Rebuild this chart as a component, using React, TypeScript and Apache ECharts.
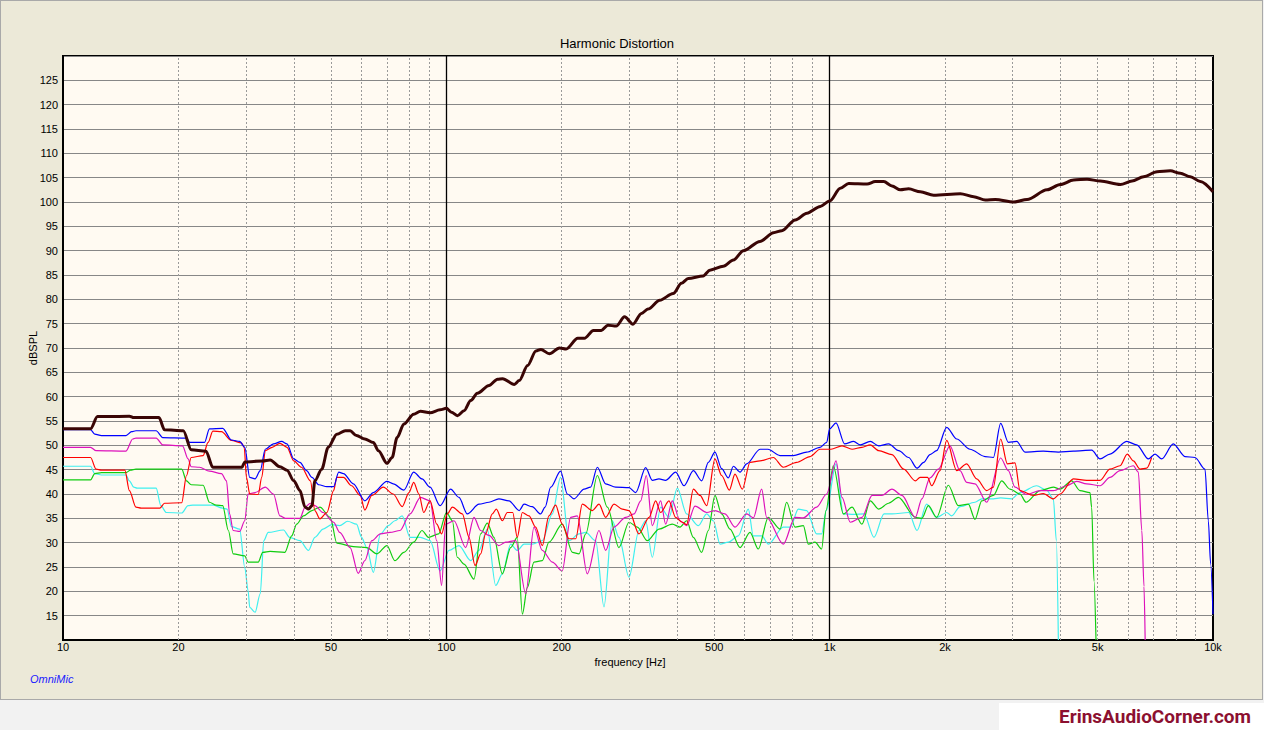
import React, { useEffect, useRef } from "react";
import * as echarts from "echarts";

// ---------- axis / tick data ----------
const xTickFreqs = [10, 20, 50, 100, 200, 500, 1000, 2000, 5000, 10000];
const xTickLabels = ["10", "20", "50", "100", "200", "500", "1k", "2k", "5k", "10k"];
const minorGridFreqs = [
  20, 30, 40, 50, 60, 70, 80, 90,
  200, 300, 400, 500, 600, 700, 800, 900,
  2000, 3000, 4000, 5000, 6000, 7000, 8000, 9000,
];
const majorGridFreqs = [100, 1000];
const yMin = 10;
const yMax = 130;
const yStep = 5;

// ---------- series data: [frequency Hz, dB SPL] ----------
const fundamental: [number, number][] = [
  [10, 53.4], [11.8, 53.4], [12.3, 55.9], [14.9, 56.0], [15.3, 55.7], [17.8, 55.7], [18.4, 53.2],
  [20.6, 53.0], [21.6, 49.1], [23.6, 48.8], [24.6, 45.5], [29.3, 45.5], [29.8, 46.6], [33.2, 46.8],
  [34.7, 47.0], [36.8, 45.6], [38.4, 44.9], [40, 42.7], [41.5, 40.7], [42.8, 37.3], [43.7, 36.9],
  [44.6, 37.6], [45.4, 42.7], [47.3, 45.1], [49.2, 49.6], [51.8, 52.3], [54.5, 53.0], [56.1, 53.0],
  [58.3, 52.0], [61.3, 51.3], [64.5, 50.6], [66.5, 48.9], [70, 46.3], [72.2, 47.5], [74.4, 51.6],
  [77.5, 54.4], [82.2, 56.4], [85.6, 57.0], [90.7, 56.7], [96.3, 57.3], [100, 57.6], [103.1, 56.8],
  [106.9, 56.1], [111.2, 57.1], [115.8, 59.2], [120.5, 60.7], [129.3, 62.3], [136, 63.6], [140.2, 63.7],
  [150.4, 62.5], [155, 63.3], [162.9, 66.4], [171.3, 69.4], [176.5, 69.7], [185.7, 68.8], [197.3, 70.0],
  [205.4, 69.8], [220.2, 72.0], [229.2, 72.0], [242, 73.6], [253.6, 73.6], [264, 74.7], [277.4, 74.5],
  [291.7, 76.4], [306.8, 74.9], [322.8, 77.1], [335.8, 78.0], [360.3, 79.8], [390.6, 81.2], [410.6, 83.3],
  [427.5, 84.3], [467.8, 84.8], [487.1, 86.0], [527.9, 86.8], [560.8, 88.1], [595.6, 90.0], [658.3, 91.9],
  [713.6, 93.7], [750.3, 94.1], [813, 96.3], [872.4, 97.7], [945.4, 99.1], [1000, 100.2], [1066, 102.8],
  [1121, 103.8], [1252, 103.7], [1315, 104.2], [1384, 104.2], [1454, 103.3], [1529, 102.5], [1607, 102.7],
  [1724, 102.1], [1867, 101.4], [2193, 101.7], [2375, 101.1], [2547, 100.4], [2705, 100.5], [3020, 100.0],
  [3272, 100.5], [3690, 102.5], [3998, 103.6], [4329, 104.5], [4692, 104.7], [5082, 104.3], [5732, 103.6],
  [6148, 104.3], [6592, 105.2], [7145, 106.2], [7740, 106.4], [8217, 105.9], [8728, 105.2], [9268, 104.2],
  [10000, 102.1],
];

const blueTrace: [number, number][] = [
  [10, 53.2], [11.8, 53.2], [12.1, 52.3], [12.6, 52.0], [14.6, 52.0], [15.1, 52.8], [15.5, 53.0],
  [17.5, 53.0], [18.2, 51.6], [21.0, 51.5], [21.4, 50.6], [23.4, 50.6], [24.1, 53.4], [26.1, 53.5],
  [27.5, 51.1], [28.9, 50.8], [29.8, 49.6], [30.7, 43.4], [31.7, 43.1], [32.7, 44.8], [33.7, 49.2],
  [35.4, 50.3], [37.2, 50.8], [38.4, 50.3], [40, 47.2], [41.5, 46.5], [43.2, 44.8], [44.6, 43.4],
  [46.5, 41.9], [48.8, 41.5], [50.8, 41.5], [52.4, 44.5], [53.9, 44.2], [57.2, 42.1], [61.3, 38.6],
  [64.5, 40.3], [70, 42.6], [72.7, 42.1], [77.5, 40.8], [82.2, 44.5], [86.4, 43.1], [90.7, 41.4],
  [96.3, 37.6], [102.6, 41.0], [107.9, 39.3], [113.4, 35.9], [121.7, 37.9], [129.2, 38.3], [137.1, 39.0],
  [145.7, 38.6], [154.9, 36.6], [159.5, 37.9], [167.5, 37.4], [176.2, 35.9], [181, 37.3], [187.2, 41.4],
  [198.6, 44.7], [206.9, 40.0], [215.3, 39.0], [228.7, 41.0], [237.9, 41.4], [247.7, 45.5], [260.4, 42.1],
  [276.5, 41.4], [299.6, 41.3], [311.9, 40.3], [331.1, 45.4], [344.6, 42.8], [358.7, 43.1], [373, 42.8],
  [396.6, 44.5], [416.9, 41.7], [441, 44.8], [463.6, 42.7], [482.5, 46.5], [502.1, 48.6], [522.6, 45.2],
  [544, 43.3], [560.9, 45.7], [583.8, 44.5], [607.6, 46.2], [658.1, 49.2], [690, 49.2], [742.1, 47.9],
  [803.8, 47.9], [871, 48.6], [943.6, 49.6], [982.2, 50.6], [1000, 53.4], [1039, 54.6], [1094, 50.3],
  [1155, 50.8], [1202, 50.1], [1276, 50.8], [1342, 49.9], [1425, 50.3], [1514, 48.9], [1607, 47.5],
  [1690, 45.3], [1759, 46.5], [1827, 48.1], [1901, 48.9], [2020, 53.7], [2145, 51.3], [2323, 49.2],
  [2543, 47.7], [2673, 47.5], [2793, 54.5], [2925, 50.6], [3075, 50.8], [3233, 48.6], [3609, 48.8],
  [3950, 48.6], [4323, 48.8], [4826, 49.0], [5073, 47.2], [5386, 48.2], [5954, 50.8], [6324, 50.1],
  [6782, 47.2], [7060, 48.2], [7347, 47.2], [7880, 50.3], [8452, 47.7], [8974, 47.5], [9530, 45.1],
  [9723, 34.5], [9860, 25.6], [10000, 15.3],
];

const redTrace: [number, number][] = [
  [10, 47.5], [11.8, 47.5], [12.2, 45.1], [12.6, 44.9], [14.5, 44.9], [14.9, 40.7], [15.5, 37.3],
  [16, 37.1], [17.9, 37.1], [18.4, 38.1], [20.4, 38.2], [21, 43.8], [21.6, 47.5], [23.2, 47.9],
  [23.9, 50.6], [24.6, 52.9], [25.9, 52.8], [27.5, 51.0], [29.2, 50.5], [29.7, 49.6], [30.1, 43.4],
  [30.7, 40.0], [32.3, 39.9], [33.0, 43.4], [33.7, 48.9], [35.1, 49.6], [36.8, 50.4], [38.4, 49.6],
  [40, 46.8], [41.9, 45.5], [44.2, 42.7], [45.4, 36.6], [46.8, 34.9], [48.8, 36.2], [50.8, 40.7],
  [51.8, 43.4], [53.9, 43.4], [56.6, 41.7], [59.6, 39.7], [61.3, 36.7], [63.9, 39.7], [68.5, 41.4],
  [72.7, 40.0], [76.7, 37.4], [79.9, 40.3], [82.2, 42.4], [84.8, 40.0], [87.3, 36.2], [90.7, 38.6],
  [94.4, 33.8], [97.2, 31.8], [100.6, 35.9], [103.7, 37.3], [110.1, 35.9], [114.6, 31.1], [118.8, 25.3],
  [122.9, 27.7], [126.6, 31.8], [131.8, 35.9], [135, 36.9], [140, 34.5], [144.2, 36.2], [149, 36.2],
  [153.1, 31.1], [157.9, 36.2], [164.3, 35.5], [171, 33.2], [178, 29.4], [185.2, 35.5], [192.8, 37.7],
  [200.6, 33.8], [208.9, 30.8], [217.5, 30.8], [226.3, 37.9], [240.4, 36.6], [250.2, 37.9], [260.4, 35.2],
  [273.8, 37.9], [287.8, 36.9], [299.6, 36.6], [318.1, 31.8], [338, 35.2], [351.6, 38.6], [362.3, 36.2],
  [380.9, 38.6], [396.5, 35.2], [412.7, 34.2], [423.6, 33.7], [441, 41.0], [459, 39.7], [477.7, 37.6],
  [502, 47.2], [522.6, 43.8], [547.3, 40.8], [566.2, 44.1], [591.9, 41.0], [619.7, 46.5], [658, 46.8],
  [712.9, 47.5], [757, 45.5], [820, 46.5], [888.6, 47.7], [943.6, 49.2], [1008, 49.2], [1077, 49.9],
  [1144, 49.2], [1214, 49.6], [1276, 50.1], [1342, 48.9], [1454, 48.1], [1560, 45.1], [1673, 42.7],
  [1721, 43.4], [1800, 43.4], [1846, 41.7], [1940, 44.8], [2020, 51.0], [2145, 44.8], [2277, 46.2],
  [2418, 43.1], [2568, 40.7], [2673, 41.4], [2793, 51.3], [2907, 46.2], [3044, 46.4], [3137, 40.7],
  [3399, 39.7], [3609, 40.1], [3833, 39.0], [3990, 40.0], [4323, 43.1], [4682, 42.8], [5073, 42.8],
  [5386, 45.1], [5719, 45.8], [5976, 48.2], [6198, 46.8], [6451, 45.1], [6714, 45.3], [6918, 47.5],
];

const magentaTrace: [number, number][] = [
  [10, 49.6], [11.8, 49.6], [12.2, 48.9], [14.6, 48.8], [15.2, 51.3], [15.5, 51.5], [17.5, 51.5],
  [18.2, 50.1], [20.5, 49.9], [21.2, 47.2], [21.6, 45.6], [22.7, 45.5], [24.1, 44.7], [25.9, 44.2],
  [26.7, 42.7], [27.2, 35.9], [27.8, 32.5], [28.9, 32.3], [29.8, 34.5], [30.4, 40.0], [31.7, 40.3],
  [33.7, 41.4], [35.4, 40.0], [36.8, 35.5], [38, 35.0], [41.5, 35.0], [42.8, 37.3], [44.2, 38.1],
  [45.4, 37.6], [47.7, 36.2], [50.8, 34.2], [52.7, 32.1], [56.1, 29.0], [58.9, 23.7], [61.3, 26.3],
  [63.9, 30.4], [67.3, 31.8], [71.3, 32.1], [75.7, 32.5], [80.4, 35.9], [85.6, 39.3], [90.7, 38.6],
  [94.4, 30.4], [97.2, 21.2], [99.6, 33.8], [104.7, 34.5], [112.3, 29.0], [118.1, 35.2], [122.9, 32.5],
  [129.2, 31.5], [137.1, 29.4], [142.8, 30.1], [151.7, 30.4], [161.1, 19.5], [169.3, 33.2], [178, 28.4],
  [189, 26.0], [200.6, 24.2], [211, 35.2], [219.6, 35.5], [233.2, 23.6], [250.2, 32.5], [260.4, 28.4],
  [273.8, 33.2], [293.7, 35.2], [308.8, 35.9], [321.4, 38.6], [332.4, 43.8], [344.6, 33.5], [362.3, 38.6],
  [373.4, 33.8], [388.6, 38.6], [407, 34.5], [423.6, 33.5], [445.4, 37.5], [477.7, 36.2], [502, 36.6],
  [533.3, 35.9], [566.2, 33.2], [607.6, 35.9], [632.3, 35.1], [664.6, 41.0], [684.9, 35.2], [757, 29.7],
  [812, 35.2], [853.7, 35.1], [925, 37.3], [982, 40.0], [1039, 46.8], [1077, 39.3], [1132, 34.2],
  [1214, 35.2], [1290, 39.7], [1369, 39.7], [1454, 41.0], [1544, 39.7], [1673, 35.2], [1740, 39.0],
  [1827, 43.3], [1921, 45.1], [2060, 49.9], [2188, 44.8], [2277, 42.4], [2394, 42.1], [2568, 38.3],
  [2793, 47.4], [2925, 44.8], [3044, 41.4], [3265, 39.9], [3538, 40.7], [3833, 40.7], [4153, 41.7],
  [4410, 42.6], [4682, 42.1], [5073, 41.7], [5386, 43.4], [5719, 44.8], [6198, 45.8], [6386, 44.5],
  [6521, 32.5], [6607, 21.0], [6653, 10],
];

const greenTrace: [number, number][] = [
  [10, 42.9], [11.8, 42.9], [12.1, 44.2], [12.6, 44.4], [14.6, 44.4], [15.0, 44.9], [15.5, 45.1],
  [20.4, 45.1], [21.0, 42.7], [21.6, 41.9], [23.2, 41.8], [24.1, 38.3], [25.1, 37.7], [26.1, 37.6],
  [27.0, 32.5], [27.8, 27.7], [29.8, 27.3], [30.4, 26.0], [32.3, 26.0], [33.2, 28.0], [34.7, 28.2],
  [37.9, 28.0], [39.5, 31.4], [40.7, 33.8], [42.4, 35.5], [44.6, 36.6], [46.8, 37.3], [49.8, 35.2],
  [51.8, 29.9], [57.2, 29.2], [62, 29.0], [65.9, 27.7], [70, 29.4], [73.4, 26.3], [77.5, 28.0],
  [82.2, 30.1], [86.4, 32.5], [89.8, 31.1], [95.5, 31.8], [100.1, 36.2], [103.7, 34.5], [106.8, 27.0],
  [111.2, 25.6], [118.1, 22.5], [122.9, 31.8], [127.9, 34.0], [133.1, 31.1], [140, 23.6], [147.2, 29.0],
  [153.1, 31.1], [157.9, 15.3], [162.7, 20.8], [169.3, 26.0], [178, 26.3], [185.2, 30.1], [200.6, 33.8],
  [213.3, 28.0], [221.9, 27.7], [231, 31.8], [247.7, 43.8], [263.1, 37.3], [282, 29.0], [299.6, 34.2],
  [315, 33.2], [334.5, 30.4], [358.7, 32.8], [388.6, 33.8], [407, 33.2], [423.6, 34.5], [441, 31.1],
  [463.6, 28.0], [482.5, 32.5], [502, 39.7], [522.6, 35.9], [549.5, 32.8], [583.8, 29.0], [619.7, 32.1],
  [651.4, 28.7], [691.8, 35.2], [742.1, 32.8], [772.4, 38.3], [812, 33.2], [853.7, 33.5], [879.7, 29.7],
  [915.6, 30.1], [953, 28.7], [978, 36.6], [1022, 45.8], [1086, 35.9], [1144, 37.3], [1214, 33.8],
  [1276, 38.6], [1342, 36.9], [1425, 38.1], [1511, 39.3], [1673, 35.2], [1740, 35.0], [1809, 37.6],
  [1901, 35.2], [2040, 41.8], [2166, 37.6], [2300, 37.9], [2394, 34.8], [2493, 38.6], [2673, 39.7],
  [2810, 42.7], [2954, 41.0], [3137, 40.0], [3253, 38.3], [3538, 40.7], [3833, 41.4], [3990, 41.0],
  [4279, 42.7], [4498, 40.7], [4776, 40.3], [4826, 37.2], [4893, 22.1], [4952, 10],
];

const cyanTrace: [number, number][] = [
  [10, 45.7], [11.8, 45.7], [12.1, 44.2], [12.6, 43.9], [14.6, 43.9], [14.9, 42.7], [15.3, 41.4],
  [15.6, 41.2], [17.5, 41.2], [18, 37.6], [18.6, 36.2], [20.4, 36.1], [21.2, 37.6], [21.8, 37.7],
  [24.6, 37.7], [26.1, 37.1], [26.8, 36.9], [27.5, 33.3], [28.9, 32.8], [29.8, 24.9], [30.4, 20.1],
  [30.7, 16.7], [31.7, 15.7], [32.7, 19.5], [33.4, 30.4], [34.3, 32.1], [37.6, 32.6], [39, 31.1],
  [41.5, 30.4], [43.7, 28.4], [45.4, 31.1], [47.7, 32.8], [50.3, 33.7], [52.7, 33.5], [55.3, 34.4],
  [58.3, 33.8], [60.1, 31.1], [62, 29.0], [64.5, 23.9], [67.3, 31.8], [70.6, 33.5], [73.4, 34.5],
  [76.7, 35.5], [80.4, 31.1], [85.6, 31.1], [90.7, 30.4], [96.3, 24.2], [101.6, 28.4], [107.9, 29.4],
  [115.8, 26.3], [121.7, 28.4], [127.9, 32.8], [134.5, 21.2], [140, 23.6], [147.2, 29.7], [153.1, 28.4],
  [159.5, 29.7], [167.5, 29.7], [178, 30.4], [189, 35.9], [198.6, 43.4], [208.9, 30.4], [221.9, 31.8],
  [231, 32.1], [245.2, 30.4], [257.8, 16.8], [271, 34.5], [282, 31.1], [299.6, 22.9], [318.1, 32.5],
  [331.1, 34.5], [344.6, 27.0], [362.3, 37.3], [380.9, 35.2], [400.5, 41.2], [423.6, 35.9], [454.4, 33.5],
  [477.7, 35.9], [497.3, 34.5], [517.6, 29.7], [544, 30.1], [577.9, 31.4], [613.5, 36.9], [632, 31.4],
  [665, 31.4], [691.8, 29.7], [757, 33.2], [790, 33.2], [828.3, 36.9], [871, 36.6], [925, 31.8],
  [953, 31.8], [980, 36.6], [1039, 46.2], [1086, 35.9], [1157.5, 35.8], [1229, 35.9], [1305, 31.1],
  [1386, 35.9], [1454, 35.9], [1607, 36.2], [1690, 32.5], [1791, 37.9], [1901, 35.2], [2020, 36.2],
  [2081, 35.5], [2188, 37.4], [2394, 38.3], [2493, 39.0], [2673, 39.0], [2793, 39.2], [2984, 39.0],
  [3137, 40.3], [3467, 41.7], [3681, 40.8], [3833, 39.0], [3903, 30.4], [3950, 10],
];

const FONT = "'Liberation Sans Narrow', 'Liberation Sans', Arial, sans-serif";

export default function App() {
  const ref = useRef<HTMLDivElement>(null);

  useEffect(() => {
    if (!ref.current) return;
    const chart = echarts.init(ref.current, undefined, { renderer: "svg" });

    const gridMarks: any[] = [];
    minorGridFreqs.forEach((f) =>
      gridMarks.push({
        xAxis: f,
        lineStyle: { color: "#9a9a9a", type: [2, 2], width: 1 },
        label: { show: false },
      })
    );
    majorGridFreqs.forEach((f) =>
      gridMarks.push({
        xAxis: f,
        lineStyle: { color: "#000", type: "solid", width: 1.3 },
        label: { show: false },
      })
    );
    const labelMarks: any[] = xTickFreqs.map((f, i) => ({
      xAxis: f,
      lineStyle: { color: "rgba(0,0,0,0)", width: 0, opacity: 1 },
      label: {
        show: true,
        position: "start",
        distance: 1,
        formatter: xTickLabels[i],
        color: "#000",
        opacity: 1,
        fontSize: 11,
        fontFamily: FONT,
      },
    }));

    const line = (name: string, data: [number, number][], color: string, width: number, z: number) => ({
      name,
      type: "line",
      data,
      showSymbol: false,
      symbol: "none",
      smooth: 0.3,
      smoothMonotone: "x",
      z,
      lineStyle: { color, width },
      itemStyle: { color },
      clip: true,
    });

    chart.setOption({
      animation: false,
      backgroundColor: "transparent",
      grid: {
        left: 63,
        top: 56,
        right: 51,
        bottom: 90,
        show: true,
        backgroundColor: "#FFFAF2",
        borderColor: "#000",
        borderWidth: 2,
      },
      xAxis: {
        type: "log",
        logBase: 10,
        min: 10,
        max: 10000,
        axisLine: { show: true, lineStyle: { color: "#000", width: 2 } },
        axisTick: { show: false },
        axisLabel: { show: false },
        splitLine: { show: false },
        minorTick: { show: false },
      },
      yAxis: {
        type: "value",
        min: yMin,
        max: yMax,
        interval: yStep,
        axisLine: { show: true, lineStyle: { color: "#000", width: 2 } },
        axisTick: { show: false },
        axisLabel: {
          margin: 5,
          fontSize: 11,
          color: "#000",
          fontFamily: FONT,
          formatter: (v: number) => (v === yMin || v === yMax ? "" : String(v)),
        },
        splitLine: { show: true, lineStyle: { color: "#878787", width: 1 } },
      },
      graphic: [
        {
          type: "text",
          x: 617,
          y: 43,
          style: {
            text: "Harmonic Distortion",
            align: "center",
            verticalAlign: "middle",
            fontSize: 13,
            fontFamily: "'Liberation Sans', Arial, sans-serif",
            fill: "#000",
          },
        },
        {
          type: "text",
          x: 33,
          y: 348,
          rotation: Math.PI / 2,
          style: {
            text: "dBSPL",
            align: "center",
            verticalAlign: "middle",
            fontSize: 11,
            fontFamily: FONT,
            fill: "#000",
          },
        },
        {
          type: "text",
          x: 630,
          y: 662,
          style: {
            text: "frequency [Hz]",
            align: "center",
            verticalAlign: "middle",
            fontSize: 11,
            fontFamily: FONT,
            fill: "#000",
          },
        },
        {
          type: "text",
          x: 30,
          y: 679,
          style: {
            text: "OmniMic",
            align: "left",
            verticalAlign: "middle",
            fontSize: 11,
            fontStyle: "italic",
            fontFamily: "'Liberation Sans', Arial, sans-serif",
            fill: "#1a1aff",
          },
        },
        {
          type: "text",
          x: 1155,
          y: 716,
          style: {
            text: "ErinsAudioCorner.com",
            align: "center",
            verticalAlign: "middle",
            fontSize: 19,
            fontWeight: "bold",
            fontFamily: "Roboto, 'Open Sans', sans-serif",
            fill: "#8c1030",
          },
        },
      ],
      series: [
        {
          name: "gridlines",
          type: "line",
          data: [[10, 10]],
          showSymbol: false,
          symbol: "none",
          lineStyle: { opacity: 0 },
          z: 1,
          silent: true,
          markLine: {
            silent: true,
            symbol: ["none", "none"],
            animation: false,
            data: gridMarks,
          },
        },
        {
          name: "ticklabels",
          type: "line",
          data: [[10, 10]],
          showSymbol: false,
          symbol: "none",
          lineStyle: { opacity: 0 },
          z: 1,
          silent: true,
          markLine: {
            silent: true,
            symbol: ["none", "none"],
            animation: false,
            data: labelMarks,
          },
        },
        line("H5", cyanTrace, "#3fefef", 1.2, 2),
        line("H4", greenTrace, "#10cc10", 1.2, 3),
        line("H3", magentaTrace, "#dd11bb", 1.2, 4),
        line("H2", redTrace, "#ff0000", 1.2, 5),
        line("THD", blueTrace, "#0000ff", 1.2, 6),
        line("Fundamental", fundamental, "#3a0505", 3, 7),
      ],
    });

    return () => chart.dispose();
  }, []);

  return (
    <div
      style={{
        position: "absolute",
        left: 0,
        top: 0,
        width: 1264,
        height: 730,
        background: "#F2F2F2",
        overflow: "hidden",
      }}
    >
      <div
        style={{
          position: "absolute",
          left: 0,
          top: 0,
          width: 1263,
          height: 700,
          boxSizing: "border-box",
          background: "#ECE9D8",
          border: "1px solid #A9A9A9",
        }}
      />
      <div
        style={{
          position: "absolute",
          left: 999,
          top: 703,
          width: 265,
          height: 27,
          background: "#FFFFFF",
        }}
      />
      <div
        ref={ref}
        style={{ position: "absolute", left: 0, top: 0, width: 1264, height: 730 }}
      />
    </div>
  );
}
